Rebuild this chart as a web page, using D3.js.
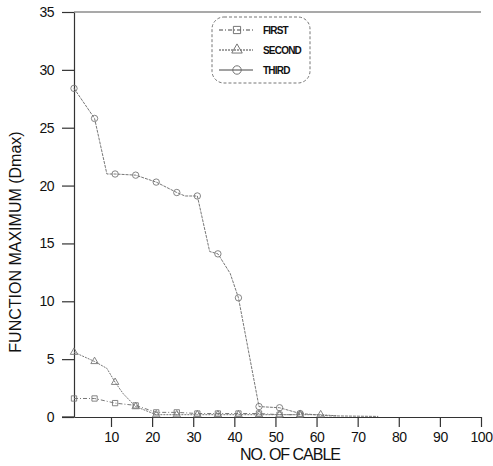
<!DOCTYPE html>
<html>
<head>
<meta charset="utf-8">
<script src="https://cdn.jsdelivr.net/npm/d3@7"></script>
<style>
  body { margin: 0; background: #fff; }
  svg { font-family: Arial, "Liberation Sans", sans-serif; }
</style>
</head>
<body>
<svg id="chart"></svg>
<script>
// cable numbers and Dmax per series (markers sit on every 5th cable)
const firstX = [1, 6, 11, 16, 21, 26, 31, 36, 41, 46, 51, 56]
const firstY = [1.6, 1.6, 1.2, 1.0, 0.4, 0.4, 0.3, 0.3, 0.3, 0.3, 0.2, 0.2]

const secondX = [1, 6, 9, 11, 13, 16, 21, 26, 31, 36, 41, 46, 51, 56, 61, 65]
const secondY = [5.6, 4.8, 4.2, 3.0, 2.0, 0.9, 0.2, 0.2, 0.2, 0.2, 0.2, 0.2, 0.2, 0.2, 0.2, 0.1]

const thirdX = [1, 6, 9, 11, 16, 21, 26, 28, 31, 34, 36, 39, 41, 46, 51, 56, 63, 75]
const thirdY = [28.4, 25.8, 21.0, 21.0, 20.9, 20.3, 19.4, 19.1, 19.1, 14.3, 14.1, 12.4, 10.3, 0.9, 0.8, 0.3, 0.1, 0.05]

const seriesNames = ['FIRST', 'SECOND', 'THIRD']
const xTicks = [10, 20, 30, 40, 50, 60, 70, 80, 90, 100]
const yTicks = [0, 5, 10, 15, 20, 25, 30, 35]

const width = 493
const height = 466
const svg = d3.select('#chart').attr('width', width).attr('height', height)

const x = d3.scaleLinear().domain([1, 100]).range([74, 481])
const y = d3.scaleLinear().domain([0, 35]).range([417, 12])

// 坐标轴
const xAxis = svg.append('g')
    .attr('transform', `translate(0, ${y(0)})`)
    .call(d3.axisBottom(x).tickValues(xTicks).tickSize(10).tickPadding(5).tickSizeOuter(0))
const yAxis = svg.append('g')
    .attr('transform', `translate(${x(1)}, 0)`)
    .call(d3.axisLeft(y).tickValues(yTicks).tickSize(12).tickPadding(8).tickSizeOuter(0))

for (const ax of [xAxis, yAxis]) {
    ax.select('.domain').attr('stroke', '#333').attr('stroke-width', 1.2)
    ax.selectAll('.tick line').attr('stroke', '#333').attr('stroke-width', 1.2)
    ax.selectAll('.tick text').attr('font-size', 14).attr('fill', '#111')
        .attr('letter-spacing', -0.5)
        .attr('font-family', 'Arial, "Liberation Sans", sans-serif')
}
// x 轴把 0 之前的部分补上
svg.append('line')
    .attr('x1', 62).attr('x2', x(1)).attr('y1', y(0)).attr('y2', y(0))
    .attr('stroke', '#333').attr('stroke-width', 1.2)

// 顶边框
svg.append('line')
    .attr('x1', x(1)).attr('x2', x(100)).attr('y1', y(35)).attr('y2', y(35))
    .attr('stroke', '#555').attr('stroke-width', 1.2)

// 轴标题
svg.append('text')
    .attr('x', 290).attr('y', 460)
    .attr('text-anchor', 'middle')
    .attr('font-size', 16).attr('letter-spacing', -1).attr('fill', '#111')
    .text('NO. OF CABLE')
svg.append('text')
    .attr('transform', `translate(21, 242) rotate(-90)`)
    .attr('text-anchor', 'middle')
    .attr('font-size', 16).attr('fill', '#111')
    .text('FUNCTION MAXIMUM (Dmax)')

const styles = [
    { dash: '4,2,1,2', marker: d3.symbolSquare, size: 28 },
    { dash: '2,1', marker: d3.symbolTriangle, size: 24 },
    { dash: '3,1', marker: d3.symbolCircle, size: 32 },
]
const series = [
    d3.zip(firstX, firstY),
    d3.zip(secondX, secondY),
    d3.zip(thirdX, thirdY),
]

const line = d3.line().x(d => x(d[0])).y(d => y(d[1]))

series.forEach((pts, i) => {
    const st = styles[i]
    svg.append('path')
        .datum(pts)
        .attr('fill', 'none')
        .attr('stroke', '#777')
        .attr('stroke-width', 1)
        .attr('stroke-dasharray', st.dash)
        .attr('d', line)

    svg.append('g').selectAll('path')
        .data(pts.filter(d => (d[0] - 1) % 5 === 0))
        .enter()
        .append('path')
        .attr('transform', d => `translate(${x(d[0])}, ${y(d[1])})`)
        .attr('d', d3.symbol().type(st.marker).size(st.size))
        .attr('fill', 'none')
        .attr('stroke', '#777')
        .attr('stroke-width', 0.9)
})

// 图例
const legend = svg.append('g')
legend.append('rect')
    .attr('x', 212).attr('y', 17).attr('width', 98).attr('height', 66)
    .attr('rx', 12)
    .attr('fill', 'none').attr('stroke', '#777').attr('stroke-width', 1)
    .attr('stroke-dasharray', '3,2')

seriesNames.forEach((name, i) => {
    const ly = 30 + i * 20
    legend.append('line')
        .attr('x1', 219).attr('x2', 253).attr('y1', ly).attr('y2', ly)
        .attr('stroke', '#444').attr('stroke-width', 1)
        .attr('stroke-dasharray', i === 2 ? null : styles[i].dash)
    legend.append('path')
        .attr('transform', `translate(237, ${ly})`)
        .attr('d', d3.symbol().type(styles[i].marker).size(styles[i].size + 24))
        .attr('fill', 'none').attr('stroke', '#666').attr('stroke-width', 0.9)
    legend.append('text')
        .attr('x', 263).attr('y', ly + 4)
        .attr('font-size', 10).attr('letter-spacing', -0.8)
        .attr('font-weight', 'bold').attr('fill', '#111')
        .text(name)
})
</script>
</body>
</html>
